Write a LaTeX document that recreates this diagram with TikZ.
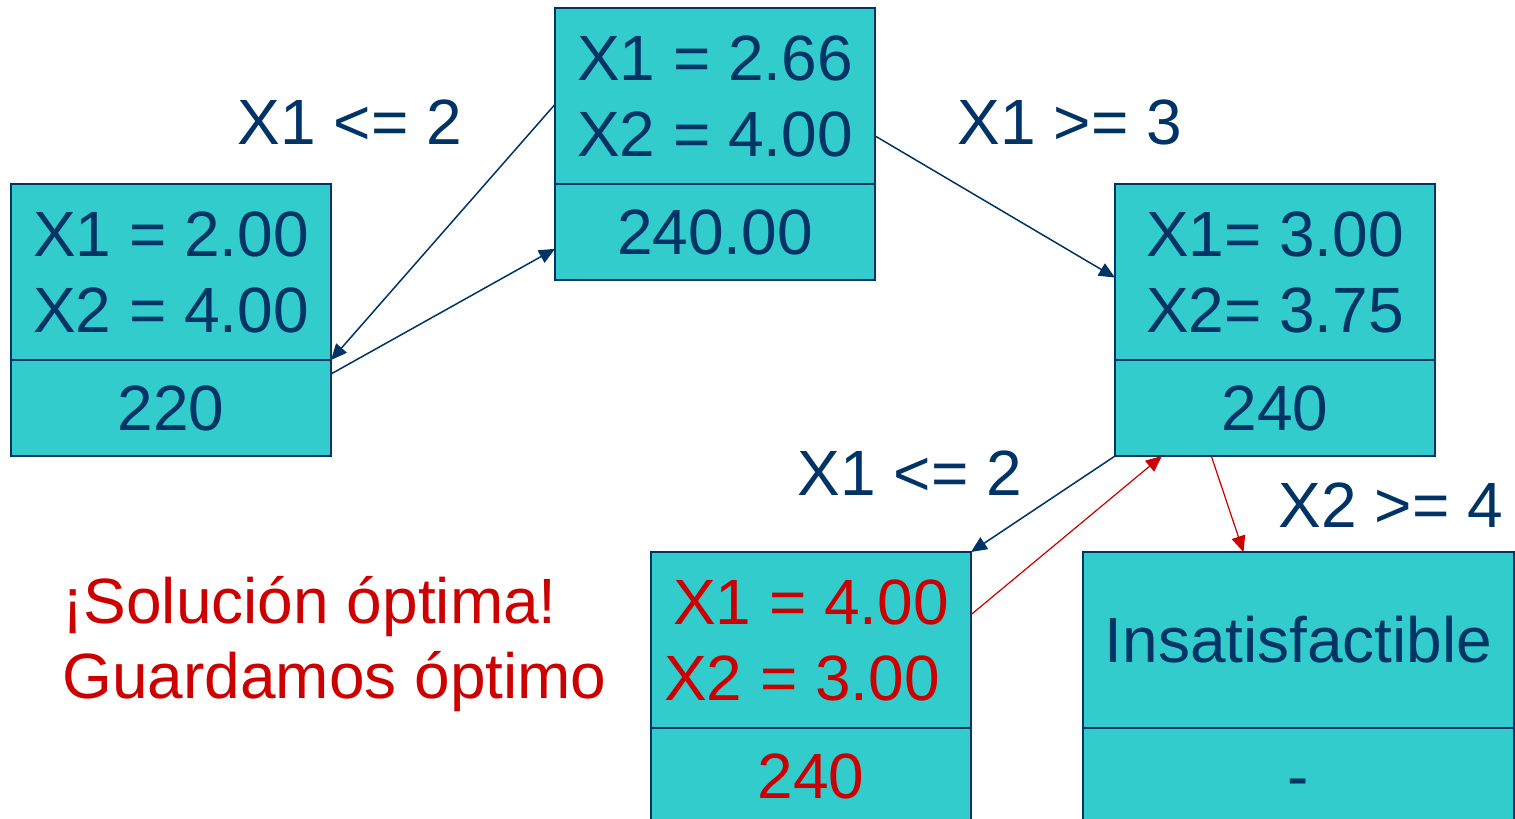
\documentclass[tikz,border=0pt]{standalone}
\usepackage{fontspec}
\setmainfont{Liberation Sans}
\usetikzlibrary{positioning,arrows.meta}
\definecolor{teal}{HTML}{33CCCC}
\definecolor{navy}{HTML}{003366}
\definecolor{hot}{HTML}{CC0000}
\tikzset{
  upperbox/.style={draw=navy,fill=teal,line width=1pt,outer sep=0pt,inner sep=0pt,
    minimum width=160pt,minimum height=88pt,align=center,text=navy,
    font=\fontsize{32}{38}\selectfont},
  lowerbox/.style={upperbox,minimum height=48pt},
  link/.style={draw=navy,line width=0.75pt,-{Triangle[length=8pt,width=7pt]}},
  redlink/.style={link,draw=hot,fill=hot,line width=0.6pt},
  lbl/.style={text=navy,inner sep=0pt,font=\fontsize{32}{37.5}\selectfont}
}
\begin{document}
\begin{tikzpicture}[x=0.5pt,y=-0.5pt]
  \useasboundingbox (0,0) rectangle (1515,819);
  % nodes of the tree
  \node[upperbox] (root) at (715,96) {X1 = 2.66\\X2 = 4.00};
  \node[lowerbox,below=0pt of root] (rootv) {240.00};
  \node[upperbox] (left) at (171,272) {X1 = 2.00\\X2 = 4.00};
  \node[lowerbox,below=0pt of left] (leftv) {220};
  \node[upperbox] (right) at (1275,272) {X1= 3.00\\X2= 3.75};
  \node[lowerbox,below=0pt of right] (rightv) {240};
  \node[upperbox,text=hot] (sol) at (811,640) {X1 = 4.00\\X2 = 3.00\hspace*{0.28em}};
  \node[lowerbox,text=hot,below=0pt of sol] (solv) {240};
  \node[upperbox,minimum width=215.5pt] (inf) at (1298.5,640) {Insatisfactible};
  \node[lowerbox,minimum width=215.5pt,below=0pt of inf] (infv) {\vphantom{240}-};
  % branches
  \draw[link] (root.183) -- (left.south east);
  \draw[link] (leftv.12) -- (rootv.186);
  \draw[link] (root.-14) -- (right.182);
  \draw[link] (rightv.south west) -- (sol.north east);
  \draw[redlink] (sol.9) -- (rightv.203);
  \draw[redlink] (rightv.217) -- (inf.122);
  % branch labels
  \node[lbl] (c1) at (350,122) {X1 <= 2};
  \node[lbl] (c2) at (1070,122) {X1 >= 3};
  \node[lbl] (c3) at (910,473) {X1 <= 2};
  \node[lbl] (c4) at (1391,505) {X2 >= 4};
  \node[lbl,text=hot,align=left,anchor=north west] (msg) at (62,576)
    {¡Solución óptima!\\Guardamos óptimo};
\end{tikzpicture}
\end{document}
